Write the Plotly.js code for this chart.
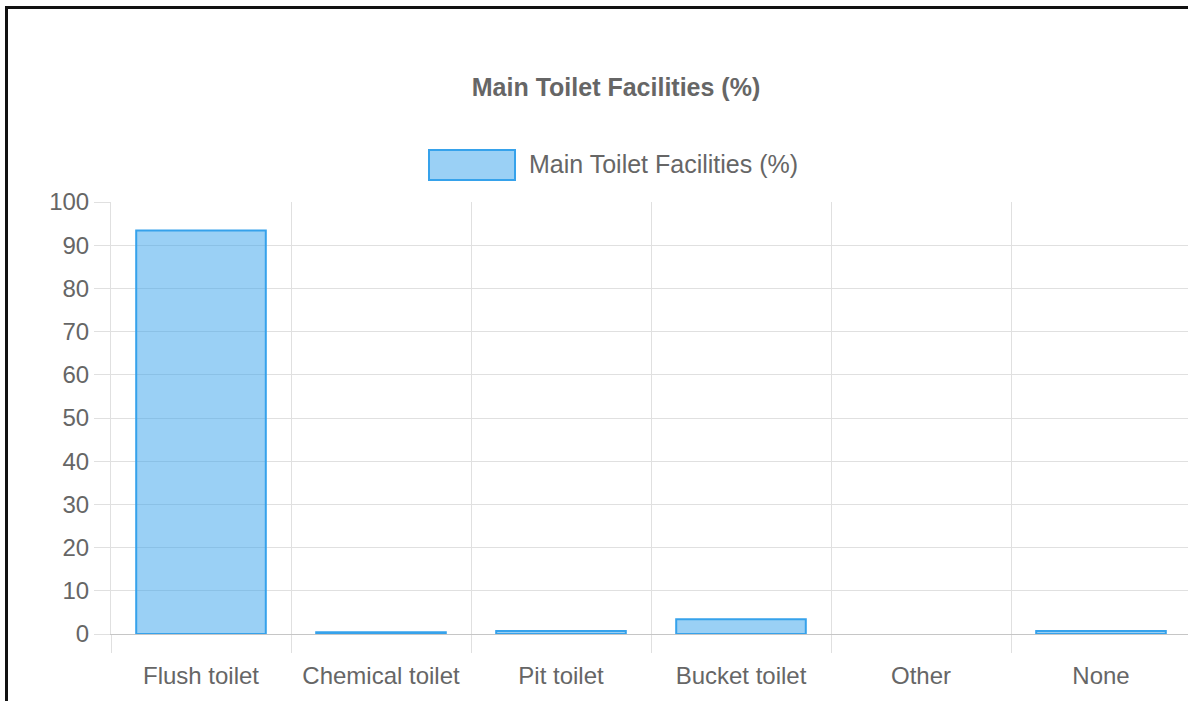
<!DOCTYPE html>
<html>
<head>
<meta charset="utf-8">
<script src="https://cdn.plot.ly/plotly-3.0.1.min.js"></script>
<style>
  html, body { margin: 0; padding: 0; background: #fff; overflow: hidden; width: 1188px; height: 701px; }
  #chart { position: absolute; left: 0; top: 0; }
  #frame { position: absolute; left: 5px; top: 6px; width: 3000px; height: 3000px;
           border-left: 3px solid #111; border-top: 3px solid #111; pointer-events: none; z-index: 10; }
</style>
</head>
<body>
<div id="chart"></div>
<div id="frame"></div>
<script>
const chartTitle = "Main Toilet Facilities (%)";
const seriesName = "Main Toilet Facilities (%)";
const categories = ["Flush toilet", "Chemical toilet", "Pit toilet", "Bucket toilet", "Other", "None"];
const values = [93.4, 0.4, 0.7, 3.4, 0, 0.7];
const yTicks = [0, 10, 20, 30, 40, 50, 60, 70, 80, 90, 100];

const fillColor = "rgba(54,162,235,0.5)";
const lineColor = "rgb(54,162,235)";
const gridColor = "#e0e0e0";
const textColor = "#666666";
const fontFamily = "'Liberation Sans', Arial, Helvetica, sans-serif";

const trace = {
  type: "bar",
  x: categories,
  y: values,
  name: seriesName,
  marker: {
    color: fillColor,
    line: { color: lineColor, width: values.map(v => (v === 0 ? 0 : 2)) }
  },
  showlegend: false,
  hoverinfo: "x+y"
};

const layout = {
  width: 1200,
  height: 701,
  margin: { l: 111, r: 9, t: 202, b: 67 },
  paper_bgcolor: "#ffffff",
  plot_bgcolor: "#ffffff",
  bargap: 0.28,
  font: { family: fontFamily, color: textColor, size: 24 },
  title: {
    text: "<b>" + chartTitle + "</b>",
    font: { family: fontFamily, size: 25, color: textColor },
    xref: "paper", x: 0.4676, xanchor: "center",
    yref: "container", y: 1 - 87 / 701, yanchor: "middle"
  },
  xaxis: {
    type: "category",
    range: [-0.5, 5.5],
    tickson: "boundaries",
    showgrid: true,
    gridcolor: gridColor,
    gridwidth: 1,
    ticks: "outside",
    ticklen: 18,
    tickcolor: gridColor,
    tickwidth: 1,
    ticklabelstandoff: 20,
    showline: true,
    linecolor: "#c6c6c6",
    linewidth: 1,
    tickfont: { size: 24, color: textColor, family: fontFamily },
    fixedrange: true
  },
  yaxis: {
    range: [0, 100],
    tickvals: yTicks,
    ticktext: yTicks.map(String),
    showgrid: true,
    gridcolor: gridColor,
    gridwidth: 1,
    zeroline: false,
    ticks: "outside",
    ticklen: 16,
    tickcolor: gridColor,
    tickwidth: 1,
    showline: true,
    linecolor: gridColor,
    linewidth: 1,
    tickfont: { size: 24, color: textColor, family: fontFamily },
    fixedrange: true
  },
  shapes: [
    {
      type: "rect", xref: "paper", yref: "paper",
      x0: (429 - 111) / 1080, x1: (515 - 111) / 1080,
      y0: (634 - 180) / 432, y1: (634 - 150) / 432,
      fillcolor: fillColor, line: { color: lineColor, width: 2 }
    }
  ],
  annotations: [
    {
      text: seriesName, xref: "paper", yref: "paper",
      x: (527 - 111) / 1080, y: (634 - 164) / 432,
      xanchor: "left", yanchor: "middle", showarrow: false,
      font: { size: 25, color: textColor, family: fontFamily }
    }
  ]
};

Plotly.newPlot("chart", [trace], layout, { displayModeBar: false, responsive: false });
</script>
</body>
</html>
